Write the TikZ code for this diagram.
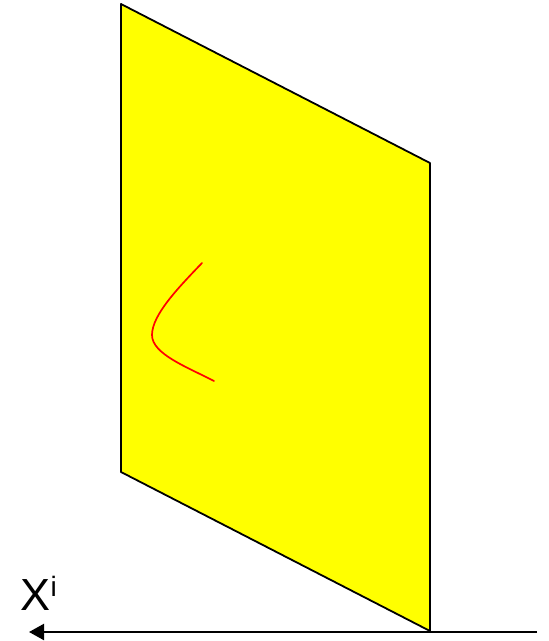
\documentclass[tikz,border=0pt]{standalone}
\usepackage{fontspec}
\setmainfont{Liberation Sans}
\usetikzlibrary{arrows.meta}
\definecolor{planeyellow}{RGB}{255,255,0}
\definecolor{curvered}{RGB}{255,0,0}
\tikzset{
  plane/.style={draw=black,fill=planeyellow,line width=1.8pt,line join=round},
  curvestyle/.style={draw=curvered,line width=1.7pt,line cap=round},
  axis/.style={draw=black,line width=2.2pt,-{Triangle[length=15pt,width=16pt]}},
  label/.style={inner sep=0pt,anchor=base west,text=black}
}
\begin{document}
\begin{tikzpicture}[x=1pt,y=-1pt]
\useasboundingbox (0,0) rectangle (549,641);
\coordinate (A) at (121,4);
\coordinate (B) at (430,163);
\coordinate (C) at (430,631);
\coordinate (D) at (121,472);
\draw[plane] (A) -- (B) -- (C) -- (D) -- cycle;
\coordinate (c1) at (202,263);
\coordinate (c2) at (152,335);
\coordinate (c3) at (214,381);
\draw[curvestyle] (c1) .. controls (178,288) and (152,315) .. (c2)
  .. controls (152,354) and (187,367) .. (c3);
\coordinate (xr) at (537,632);
\coordinate (xl) at (29,632);
\draw[axis] (xr) -- (xl);
\node[label,font=\fontsize{45}{45}\selectfont] (xlabel) at (20.5,610) {X\raisebox{13.5pt}{\fontsize{28}{28}\selectfont i}};
\end{tikzpicture}
\end{document}
